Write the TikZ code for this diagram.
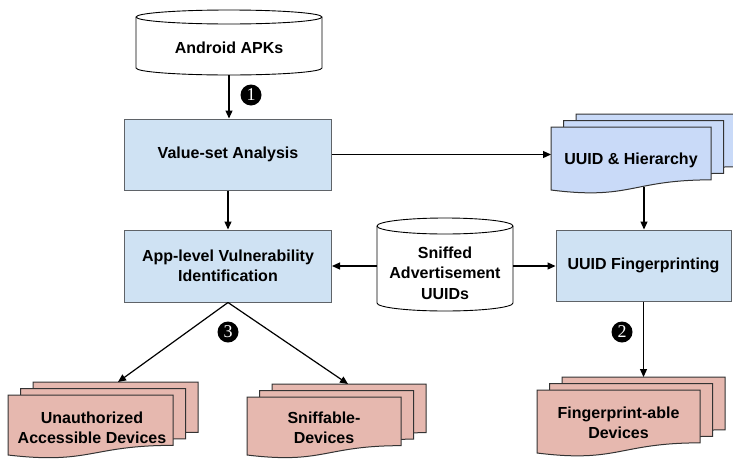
\documentclass[tikz,border=0pt]{standalone}
\usepackage{fontspec}
\setmainfont{Liberation Sans}
\newfontfamily\serifnum{Liberation Serif}
\usetikzlibrary{arrows.meta}
\definecolor{boxblue}{HTML}{CFE2F3}
\definecolor{docblue}{HTML}{C9DAF8}
\definecolor{docpink}{HTML}{E6B8AF}
\definecolor{boxedge}{HTML}{5F6368}
\definecolor{docedge}{HTML}{333333}

\newcommand{\docpath}[5]{%
  \draw[#5] (#1,#2) -- ({#1+#3},#2) -- ({#1+#3},{#2+0.839*#4})
    .. controls ({#1+0.5*#3},{#2+0.839*#4}) and ({#1+0.5*#3},{#2+1.161*#4}) .. (#1,{#2+#4}) -- cycle;}
\newcommand{\multidoc}[5]{%
  \docpath{#1+25}{#2-13}{#3}{#4}{#5}
  \docpath{#1+12.5}{#2-6.5}{#3}{#4}{#5}
  \docpath{#1}{#2}{#3}{#4}{#5}}
\newcommand{\cylshape}[5]{%
  \draw[cylstyle] (#1,{#3+#5}) -- (#1,{#4-#5})
    arc[start angle=180,end angle=0,x radius={(#2-#1)/2},y radius=#5]
    -- (#2,{#3+#5})
    arc[start angle=0,end angle=-180,x radius={(#2-#1)/2},y radius=#5] -- cycle;
  \draw[cylstyle,fill=none] (#1,{#3+#5})
    arc[start angle=180,end angle=0,x radius={(#2-#1)/2},y radius=#5];}

\begin{document}
\begin{tikzpicture}[x=1pt,y=-1pt,
  txt/.style={font=\bfseries\fontsize{16}{20.5}\selectfont, align=center, inner sep=0pt},
  box/.style={txt, draw=boxedge, fill=boxblue, line width=1pt},
  cylstyle/.style={draw=black, fill=white, line width=0.9pt},
  docb/.style={draw=docedge, fill=docblue, line width=1pt},
  docp/.style={draw=docedge, fill=docpink, line width=1pt},
  anchorbox/.style={inner sep=0pt, outer sep=0pt},
  arr/.style={line width=1.2pt, -{Triangle[length=8pt,width=7pt]}},
  badge/.style={circle, fill=black, text=white, inner sep=0pt, minimum size=21pt,
    font=\serifnum\fontsize{18}{18}\selectfont}]
\useasboundingbox (0,0) rectangle (733,461);
\clip (0,0) rectangle (733,461);

% cylinders
\cylshape{136}{322}{10}{75}{7}
\node[anchorbox, minimum width=186pt, minimum height=65pt] (apk) at (229,42.5) {};
\node[txt] (apktext) at (229,48) {Android APKs};

\cylshape{377}{513}{218}{311}{8}
\node[anchorbox, minimum width=136pt, minimum height=93pt] (sniff) at (445,266) {};
\node[txt] (snifftext) at (445,273) {Sniffed\\Advertisement\\UUIDs};

% boxes
\node[box, minimum width=207pt, minimum height=71pt] (vsa) at (228,154.5) {Value-set Analysis};
\node[box, minimum width=207pt, minimum height=72pt] (avi) at (228,266) {App-level Vulnerability\\Identification};
\node[box, minimum width=175pt, minimum height=71pt] (fp) at (643.5,265.5) {UUID Fingerprinting};

% multi-documents
\multidoc{551}{127}{160}{63}{docb}
\node[txt] (uah) at (631,160) {UUID \& Hierarchy};
\multidoc{8}{395}{165}{60}{docp}
\node[txt] (uad) at (92,428) {Unauthorized\\Accessible Devices};
\multidoc{247}{397}{154}{58}{docp}
\node[txt] (sd) at (324,428) {Sniffable-\\Devices};
\multidoc{537}{390}{163}{63}{docp}
\node[txt] (fpd) at (618.5,423) {Fingerprint-able\\Devices};

% connector ends on documents
\coordinate (uahin) at (551,154.5);
\coordinate (uahout) at (644,187);
\coordinate (uadin) at (118,382);
\coordinate (sdin) at (348,384);
\coordinate (fpdin) at (643.5,377);

% connectors
\draw[arr] (apk.south) -- (apk.south |- vsa.north);
\draw[arr] (vsa.south) -- (avi.north);
\draw[arr] (vsa.east) -- (uahin);
\draw[arr] (uahout) -- (uahout |- fp.north);
\draw[arr] (sniff.west) -- (sniff.west -| avi.east);
\draw[arr] (sniff.east) -- (sniff.east -| fp.west);
\draw[arr] (fp.south) -- (fpdin);
\draw[arr] (avi.south) -- (uadin);
\draw[arr] (avi.south) -- (sdin);

% step badges
\node[badge] (n1) at (251,95) {1};
\node[badge] (n2) at (622,332) {2};
\node[badge] (n3) at (228,332) {3};
\end{tikzpicture}
\end{document}
